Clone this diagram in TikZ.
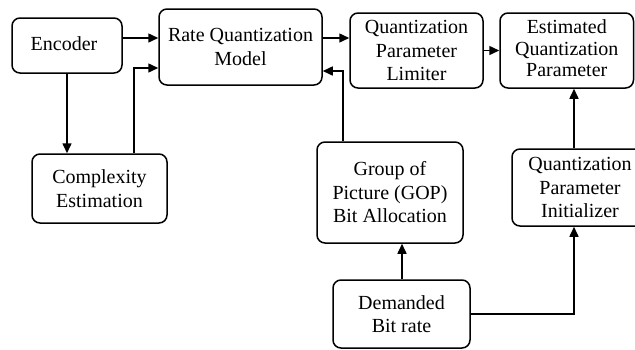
\documentclass[tikz,border=0pt]{standalone}
\usepackage{fontspec}
\setmainfont{Liberation Serif}[Ligatures=TeX]
\usetikzlibrary{arrows.meta}
\begin{document}
\begin{tikzpicture}[x=1pt,y=-1pt,
  box/.style={draw, line width=1.5pt, rounded corners=8pt, align=center, inner sep=0pt,
    font=\rmfamily\fontsize{20}{23.5}\selectfont},
  arr/.style={line width=1.5pt, -{Triangle[length=10pt,width=9pt]}},
  ln/.style={line width=1.5pt}]
\path[use as bounding box] (0,0) rectangle (635,349);
\clip (0,0) rectangle (635,349);
\node[box, minimum width=110pt, minimum height=55pt] (enc) at (67,45.5) {\raisebox{3pt}{Encoder}\hspace{6pt}};
\node[box, minimum width=163pt, minimum height=76pt] (rqm) at (240.5,47) {Rate Quantization\\Model};
\node[box, minimum width=133pt, minimum height=75pt] (qpl) at (416.5,50.5) {Quantization\\Parameter\\Limiter};
\node[box, minimum width=133.5pt, minimum height=75pt] (eqp) at (566.75,50.5) {\raisebox{3pt}{\begin{tabular}{@{}c@{}}Estimated\\[-2pt]Quantization\\[-2pt]Parameter\end{tabular}}};
\node[box, minimum width=135pt, minimum height=69pt] (cx) at (99.5,188.5) {Complexity\\Estimation};
\node[box, minimum width=146pt, minimum height=101pt] (gop) at (390,192.5) {Group of\\Picture (GOP)\\Bit Allocation};
\node[box, minimum width=136pt, minimum height=77pt] (qpi) at (580,187.5) {Quantization\\Parameter\\Initializer};
\node[box, minimum width=137pt, minimum height=68pt] (dbr) at (401.5,314) {Demanded\\Bit rate};
% connectors
\draw[arr] ([yshift=7.5pt]enc.east) -- ([yshift=7.5pt]enc.east -| rqm.west);
\draw[arr] (enc.south) -- (enc.south |- cx.north);
\draw[arr] ([xshift=34.5pt]cx.north) |- ([yshift=-21pt]rqm.west);
\draw[arr] ([yshift=9pt]rqm.east) -- ([yshift=9pt]rqm.east -| qpl.west);
\draw[arr] (qpl.east) -- (eqp.west);
\draw[arr] ([xshift=-47pt]gop.north) |- ([yshift=-24pt]rqm.east);
\draw[arr] ([xshift=-6pt]qpi.north) -- ([xshift=-6pt]qpi.north |- eqp.south);
\draw[arr] ([xshift=0.5pt]dbr.north) -- ([xshift=0.5pt]dbr.north |- gop.south);
\draw[arr] (dbr.east) -| ([xshift=-6pt]qpi.south);
\end{tikzpicture}
\end{document}
